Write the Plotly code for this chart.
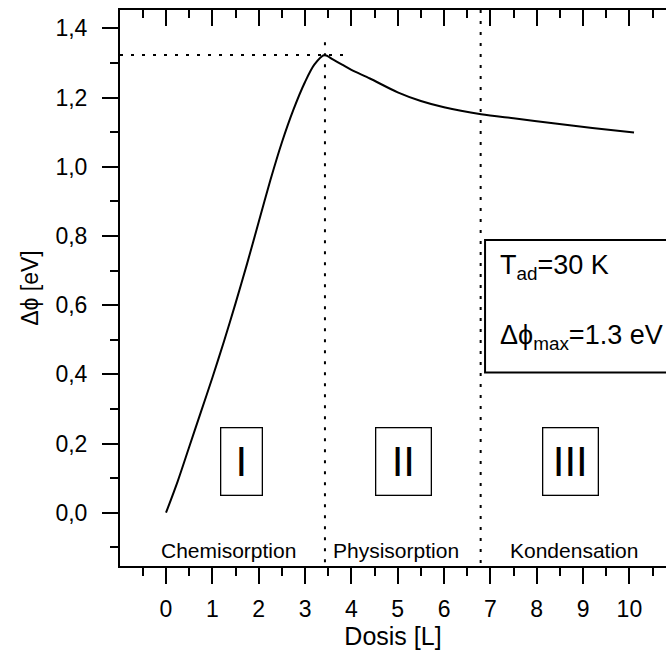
import plotly.graph_objects as go

# ---- data ----
dose = [0, 0.25, 0.5, 0.75, 1.0, 1.25, 1.5, 1.75, 2.0, 2.25, 2.5, 2.75, 3.0, 3.2, 3.42,
        3.6, 3.8, 4.0, 4.4, 5.0, 5.5, 6.0, 6.8, 7.5, 8.4, 9.2, 10.1]
dphi = [0, 0.09, 0.19, 0.29, 0.39, 0.495, 0.605, 0.72, 0.84, 0.96, 1.07, 1.165, 1.245, 1.295, 1.323,
        1.31, 1.295, 1.28, 1.255, 1.215, 1.19, 1.172, 1.152, 1.14, 1.125, 1.112, 1.099]

peak_dose = 3.43
peak_dphi = 1.323
hline_end = 3.82
vline1_top = 1.36
boundary_23 = 6.79

x_range = [-0.993, 10.79]
y_range = [-0.154, 1.453]
x_tickvals = list(range(0, 11))
y_tickvals = [0.0, 0.2, 0.4, 0.6, 0.8, 1.0, 1.2, 1.4]

region_names = ["Chemisorption", "Physisorption", "Kondensation"]
region_label_x = [1.34, 4.96, 8.80]
region_label_y = -0.108

box_labels = ["I", "II", "III"]
box_x = [1.63, 5.12, 8.73]
box_y = 0.147
box_w = [40, 54, 54]

info_x = 6.885
info_top = 0.788
info_bottom = 0.405

FONT = "Liberation Sans, Arial, sans-serif"
DOT = "3px,8px"
PHI = "ϕ"

fig = go.Figure()

fig.add_trace(go.Scatter(x=dose, y=dphi, mode="lines",
                         line=dict(color="black", width=2, shape="spline", smoothing=0.8),
                         showlegend=False, hoverinfo="skip"))
fig.add_trace(go.Scatter(x=[x_range[0], hline_end], y=[peak_dphi, peak_dphi], mode="lines",
                         line=dict(color="black", width=2, dash=DOT), showlegend=False))
fig.add_trace(go.Scatter(x=[peak_dose, peak_dose], y=[vline1_top, y_range[0]], mode="lines",
                         line=dict(color="black", width=2, dash=DOT), showlegend=False))
fig.add_trace(go.Scatter(x=[boundary_23, boundary_23], y=[y_range[1], y_range[0]], mode="lines",
                         line=dict(color="black", width=2, dash=DOT), showlegend=False))
# invisible trace for top axis
fig.add_trace(go.Scatter(x=[x_range[0]], y=[y_range[0]], xaxis="x2", mode="markers",
                         marker=dict(opacity=0), showlegend=False, hoverinfo="skip"))

annotations = []
for name, xx in zip(region_names, region_label_x):
    annotations.append(dict(x=xx, y=region_label_y, xref="x", yref="y", text=name, showarrow=False,
                            font=dict(family=FONT, size=21, color="black")))
for lab, xx, ww in zip(box_labels, box_x, box_w):
    annotations.append(dict(x=xx, y=box_y, xref="x", yref="y", text=lab, showarrow=False,
                            width=ww, height=66, borderpad=0, bordercolor="black", borderwidth=1.3,
                            font=dict(family=FONT, size=42, color="black")))
annotations.append(dict(x=7.166, y=0.709, xref="x", yref="y", xanchor="left", yanchor="middle",
                        text="T<sub>ad</sub>=30 K", showarrow=False,
                        font=dict(family=FONT, size=27, color="black")))
annotations.append(dict(x=7.166, y=0.508, xref="x", yref="y", xanchor="left", yanchor="middle",
                        text="Δ" + PHI + "<sub>max</sub>=1.3 eV", showarrow=False,
                        font=dict(family=FONT, size=27, color="black")))

fig.add_shape(type="rect", xref="x", yref="y", x0=info_x, x1=11.5, y0=info_bottom, y1=info_top,
              line=dict(color="black", width=2), layer="above")

fig.update_layout(
    width=666, height=659,
    margin=dict(l=120, r=0, t=10, b=93),
    plot_bgcolor="white", paper_bgcolor="white",
    separators=",.",
    font=dict(family=FONT, color="black"),
    annotations=annotations,
    xaxis=dict(range=x_range, tickmode="array", tickvals=x_tickvals, ticks="outside", ticklen=16,
               tickwidth=2, tickcolor="black", showline=True, linewidth=2, linecolor="black",
               showgrid=False, zeroline=False, ticklabelstandoff=5,
               tickfont=dict(family=FONT, size=23),
               minor=dict(tick0=0.5, dtick=1, ticks="outside", ticklen=8, tickwidth=2, tickcolor="black",
                          showgrid=False),
               title=dict(text="Dosis [L]", font=dict(family=FONT, size=25), standoff=2)),
    xaxis2=dict(range=x_range, overlaying="x", side="top", matches="x", tickmode="array",
                tickvals=x_tickvals, ticks="inside", ticklen=16, tickwidth=2, tickcolor="black",
                showline=True, linewidth=2, linecolor="black", showgrid=False, zeroline=False,
                showticklabels=False,
                minor=dict(tick0=0.5, dtick=1, ticks="inside", ticklen=8, tickwidth=2, tickcolor="black",
                           showgrid=False)),
    yaxis=dict(range=y_range, tickmode="array", tickvals=y_tickvals, tickformat=".1f", ticks="outside",
               ticklen=16, tickwidth=2, tickcolor="black", showline=True, linewidth=2, linecolor="black",
               showgrid=False, zeroline=False, ticklabelstandoff=10,
               tickfont=dict(family=FONT, size=23),
               minor=dict(tick0=-0.1, dtick=0.2, ticks="outside", ticklen=8, tickwidth=2, tickcolor="black",
                          showgrid=False),
               title=dict(text="Δ" + PHI + " [eV]", font=dict(family=FONT, size=23), standoff=10)),
)

fig.write_html("out.html")
